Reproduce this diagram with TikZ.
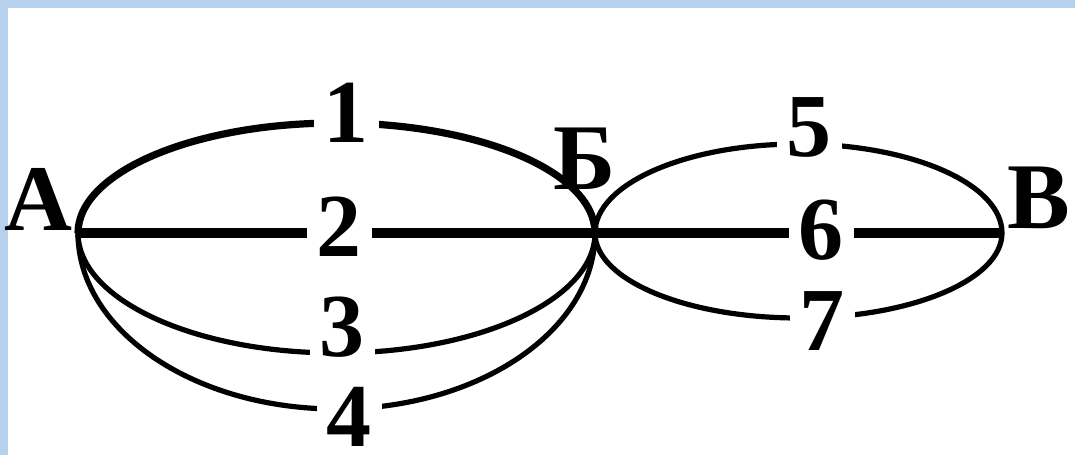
\documentclass[tikz,border=0pt]{standalone}
\usepackage{fontspec}
\setmainfont{Liberation Serif}
\definecolor{bluebg}{RGB}{181,209,237}
\begin{document}
\begin{tikzpicture}[x=0.5pt,y=0.5pt,
  edgethick/.style={line width=5pt},
  edgearc/.style={line width=2.6pt},
  edgearcb/.style={line width=3.6pt},
  lbl/.style={fill=white,inner xsep=5pt,inner ysep=0pt,font=\fontsize{45}{54}\selectfont\bfseries},
  vlbl/.style={inner sep=0pt,font=\fontsize{47}{56}\selectfont\bfseries}]
\useasboundingbox (0,0) rectangle (1075,455);
\fill[bluebg] (0,447) rectangle (1075,455);
\fill[bluebg] (0,0) rectangle (8,455);
\coordinate (A) at (78,222);
\coordinate (B) at (595,222);
\coordinate (V) at (1002,222);
\draw[edgethick] (A) -- (B);
\draw[edgethick] (B) -- (V);
\draw[edgearcb] (A) arc[start angle=180,end angle=0,x radius=258.5,y radius=110];
\draw[edgearc] (A) arc[start angle=180,end angle=360,x radius=258.5,y radius=120];
\draw[edgearc] (A) arc[start angle=180,end angle=360,x radius=258.5,y radius=176];
\draw[edgearc] (B) arc[start angle=180,end angle=0,x radius=203.5,y radius=89];
\draw[edgearc] (B) arc[start angle=180,end angle=360,x radius=203.5,y radius=85];
\node[lbl] (l1) at (346,342.5) {1};
\node[lbl] (l2) at (339,228.5) {2};
\node[lbl] (l3) at (342,127.5) {3};
\node[lbl] (l4) at (349,38) {4};
\node[lbl] (l5) at (809,327.5) {5};
\node[lbl] (l6) at (821,225) {6};
\node[lbl] (l7) at (822,133.5) {7};
\node[vlbl] (tA) at (38,255.5) {А};
\node[vlbl] (tB) at (585,296) {Б};
\node[vlbl] (tV) at (1039,257.5) {В};
\end{tikzpicture}
\end{document}
